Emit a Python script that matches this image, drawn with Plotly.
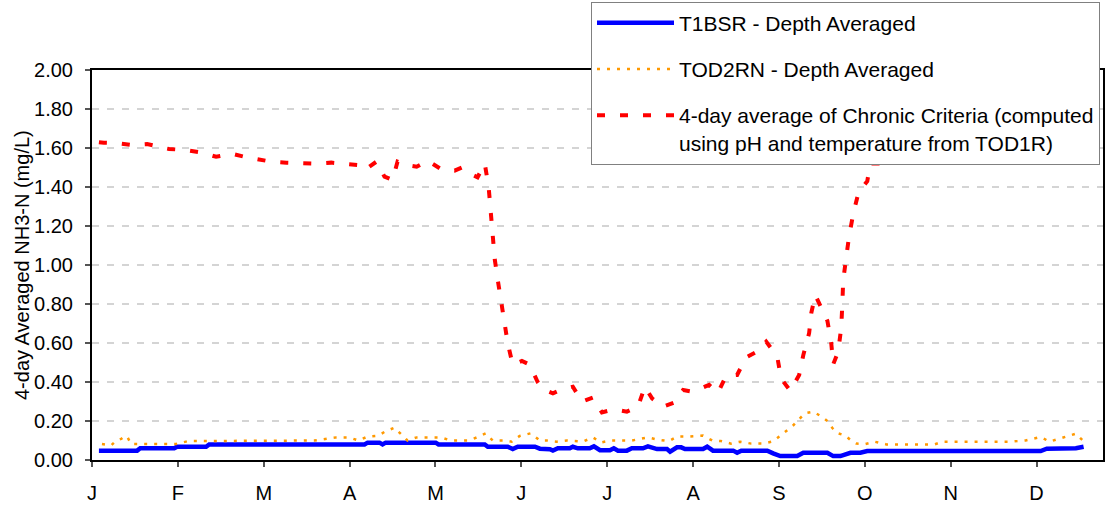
import plotly.graph_objects as go

# ---- data (x = days since Jan 1, y = mg/L) ----
month_ticks_day = [0, 31, 62, 93, 124, 155, 186, 217, 248, 279, 310, 341]
month_labels = ["J", "F", "M", "A", "M", "J", "J", "A", "S", "O", "N", "D"]

t1bsr_day = [2.5, 16.3, 17.4, 29.7, 30.7, 41.2, 42.3, 98.4, 99.5, 103.8, 104.9, 106.0,
             124.1, 125.1, 141.8, 142.9, 150.1, 151.9, 153.7, 159.9, 161.7, 165.3, 166.4,
             168.2, 172.5, 173.6, 175.4, 179.7, 181.2, 183.4, 187.0, 188.4, 189.9, 193.1,
             194.9, 198.9, 200.7, 204.0, 207.6, 208.7, 211.2, 212.7, 214.1, 220.6, 222.1,
             224.2, 231.5, 232.9, 234.4, 243.8, 245.9, 248.5, 254.6, 256.8, 265.5, 267.6,
             270.2, 273.8, 277.4, 279.9, 342.5, 344.7, 355.2, 358.0]
t1bsr_val = [0.048, 0.048, 0.060, 0.060, 0.068, 0.068, 0.080, 0.080, 0.089, 0.089, 0.080, 0.089,
             0.089, 0.080, 0.080, 0.068, 0.068, 0.056, 0.068, 0.068, 0.058, 0.055, 0.048,
             0.060, 0.060, 0.068, 0.060, 0.060, 0.070, 0.050, 0.050, 0.060, 0.048, 0.048,
             0.060, 0.060, 0.070, 0.056, 0.056, 0.043, 0.065, 0.065, 0.056, 0.056, 0.068,
             0.048, 0.048, 0.037, 0.048, 0.048, 0.034, 0.020, 0.020, 0.037, 0.037, 0.020,
             0.020, 0.037, 0.037, 0.046, 0.046, 0.058, 0.060, 0.068]

tod2rn_day = [3.6, 6.9, 8.7, 10.5, 11.9, 12.7, 14.1, 18.1, 22.4, 26.8, 30.4, 34.7, 39.1, 43.4,
              50.6, 58.6, 64.4, 72.0, 80.3, 88.2, 92.6, 96.2, 99.5, 103.4, 105.6, 109.2, 111.4,
              113.9, 117.2, 121.5, 125.9, 129.5, 136.0, 138.9, 142.1, 143.2, 144.7, 149.0,
              151.5, 154.4, 158.4, 161.7, 164.2, 167.8, 171.4, 177.2, 180.8, 183.7, 187.3,
              194.9, 200.7, 204.7, 208.3, 211.2, 215.9, 220.6, 223.9, 227.1, 230.7, 234.0,
              238.0, 242.3, 245.9, 248.1, 250.3, 253.2, 254.6, 257.5, 260.4, 261.5, 263.7,
              265.5, 267.3, 269.1, 272.0, 274.5, 276.0, 279.2, 282.5, 286.8, 304.2, 307.1,
              331.6, 337.1, 342.5, 345.7, 349.7, 355.2, 357.7]
tod2rn_val = [0.082, 0.075, 0.099, 0.108, 0.123, 0.120, 0.082, 0.082, 0.082, 0.082, 0.082, 0.097,
              0.097, 0.097, 0.097, 0.100, 0.100, 0.097, 0.100, 0.116, 0.116, 0.100, 0.120, 0.125,
              0.144, 0.166, 0.137, 0.100, 0.116, 0.116, 0.116, 0.100, 0.100, 0.116, 0.137, 0.120,
              0.100, 0.100, 0.094, 0.123, 0.137, 0.100, 0.100, 0.094, 0.100, 0.094, 0.116, 0.090,
              0.100, 0.100, 0.116, 0.103, 0.097, 0.120, 0.120, 0.125, 0.100, 0.097, 0.084, 0.094,
              0.084, 0.084, 0.096, 0.120, 0.145, 0.178, 0.200, 0.240, 0.248, 0.240, 0.220, 0.200,
              0.164, 0.138, 0.125, 0.094, 0.084, 0.082, 0.094, 0.080, 0.080, 0.094, 0.094, 0.100,
              0.118, 0.094, 0.110, 0.135, 0.100]

crit_day = [2.5, 4.3, 9.0, 14.5, 19.9, 27.8, 33.3, 39.8, 44.8, 50.6, 55.0, 59.7, 64.7, 70.2,
            75.6, 81.0, 86.4, 90.4, 95.8, 98.4, 102.7, 105.6, 108.5, 110.3, 113.2, 117.2, 121.2,
            126.2, 130.9, 133.5, 136.3, 139.2, 141.8, 143.2, 143.9, 144.7, 145.4, 146.5, 147.6,
            149.0, 150.1, 151.9, 155.2, 158.0, 160.9, 162.7, 166.4, 170.0, 173.6, 176.9, 180.8,
            184.1, 188.4, 193.1, 197.1, 199.6, 202.2, 206.1, 210.1, 213.4, 217.0, 222.8, 226.0,
            228.9, 232.9, 236.2, 240.1, 243.4, 247.4, 248.8, 252.1, 255.3, 256.8, 258.9, 259.7,
            261.1, 263.7, 265.5, 266.9, 267.6, 269.4, 270.5, 270.9, 271.2, 272.3, 273.4, 274.9,
            276.7, 279.9, 281.0, 284.6]
crit_val = [1.630, 1.627, 1.625, 1.615, 1.620, 1.595, 1.590, 1.576, 1.555, 1.570, 1.555, 1.542,
            1.530, 1.525, 1.520, 1.520, 1.525, 1.520, 1.513, 1.487, 1.530, 1.453, 1.436, 1.530,
            1.513, 1.504, 1.535, 1.490, 1.484, 1.500, 1.470, 1.450, 1.520, 1.400, 1.280, 1.154,
            1.030, 0.923, 0.820, 0.713, 0.598, 0.489, 0.508, 0.489, 0.400, 0.363, 0.342, 0.364,
            0.376, 0.299, 0.320, 0.244, 0.260, 0.248, 0.273, 0.376, 0.316, 0.273, 0.294, 0.359,
            0.350, 0.385, 0.345, 0.431, 0.436, 0.527, 0.556, 0.607, 0.530, 0.417, 0.355, 0.436,
            0.538, 0.650, 0.755, 0.846, 0.773, 0.714, 0.598, 0.491, 0.556, 0.680, 0.803, 0.920,
            1.040, 1.154, 1.267, 1.370, 1.430, 1.520, 1.520]

name_t1 = "T1BSR - Depth Averaged"
name_tod = "TOD2RN - Depth Averaged"
name_crit = "4-day average of Chronic Criteria (computed<br>using pH and temperature from TOD1R)"
y_title = "4-day Averaged NH3-N (mg/L)"

FONT = "Liberation Sans, Arial, sans-serif"

fig = go.Figure()
fig.add_trace(go.Scatter(x=t1bsr_day, y=t1bsr_val, mode="lines", name=name_t1,
                         legendgroup="a", line=dict(color="#0000FF", width=4.5)))
fig.add_trace(go.Scatter(x=tod2rn_day, y=tod2rn_val, mode="lines", name=name_tod,
                         legendgroup="b", line=dict(color="#FF9900", width=2.5, dash="3px,7px")))
fig.add_trace(go.Scatter(x=crit_day, y=crit_val, mode="lines", name=name_crit,
                         legendgroup="c", line=dict(color="#FF0000", width=4, dash="8px,15px")))

fig.update_layout(
    width=1116, height=508,
    margin=dict(l=92, r=13, t=70, b=48, autoexpand=False),
    paper_bgcolor="white", plot_bgcolor="white",
    font=dict(family=FONT, size=20, color="black"),
    showlegend=True,
    legend=dict(
        x=(591 - 92) / 1011, y=(460 - 1.5) / 390, xanchor="left", yanchor="top",
        bgcolor="white", bordercolor="#808080", borderwidth=1,
        font=dict(family=FONT, size=21, color="black"),
        traceorder="grouped", tracegroupgap=16, valign="top", itemwidth=77,
    ),
    xaxis=dict(
        range=[0, 365], tickmode="array", tickvals=month_ticks_day, ticktext=month_labels,
        showgrid=False, zeroline=False, showline=True, mirror=True, automargin=False,
        linecolor="black", linewidth=2, ticks="outside", ticklen=5, tickcolor="#555555",
        tickwidth=1.5, ticklabelstandoff=9, tickfont=dict(size=20),
    ),
    yaxis=dict(
        range=[0, 2], tickmode="linear", tick0=0, dtick=0.2, tickformat=".2f",
        showgrid=True, gridcolor="#d4d4d4", gridwidth=2, griddash="7px,8px",
        zeroline=False, showline=True, mirror=True, automargin=False,
        linecolor="black", linewidth=2,
        ticks="outside", ticklen=5, tickcolor="#555555", tickwidth=1.5,
        ticklabelstandoff=8, tickfont=dict(size=20),
    ),
    annotations=[dict(
        text=y_title, xref="paper", yref="paper", x=(22 - 92) / 1011, y=0.5,
        xanchor="center", yanchor="middle", textangle=-90, showarrow=False,
        font=dict(family=FONT, size=20, color="black"),
    )],
)

fig.write_html("out.html", config={"displayModeBar": False},
               post_script="document.body.style.margin='0';")
